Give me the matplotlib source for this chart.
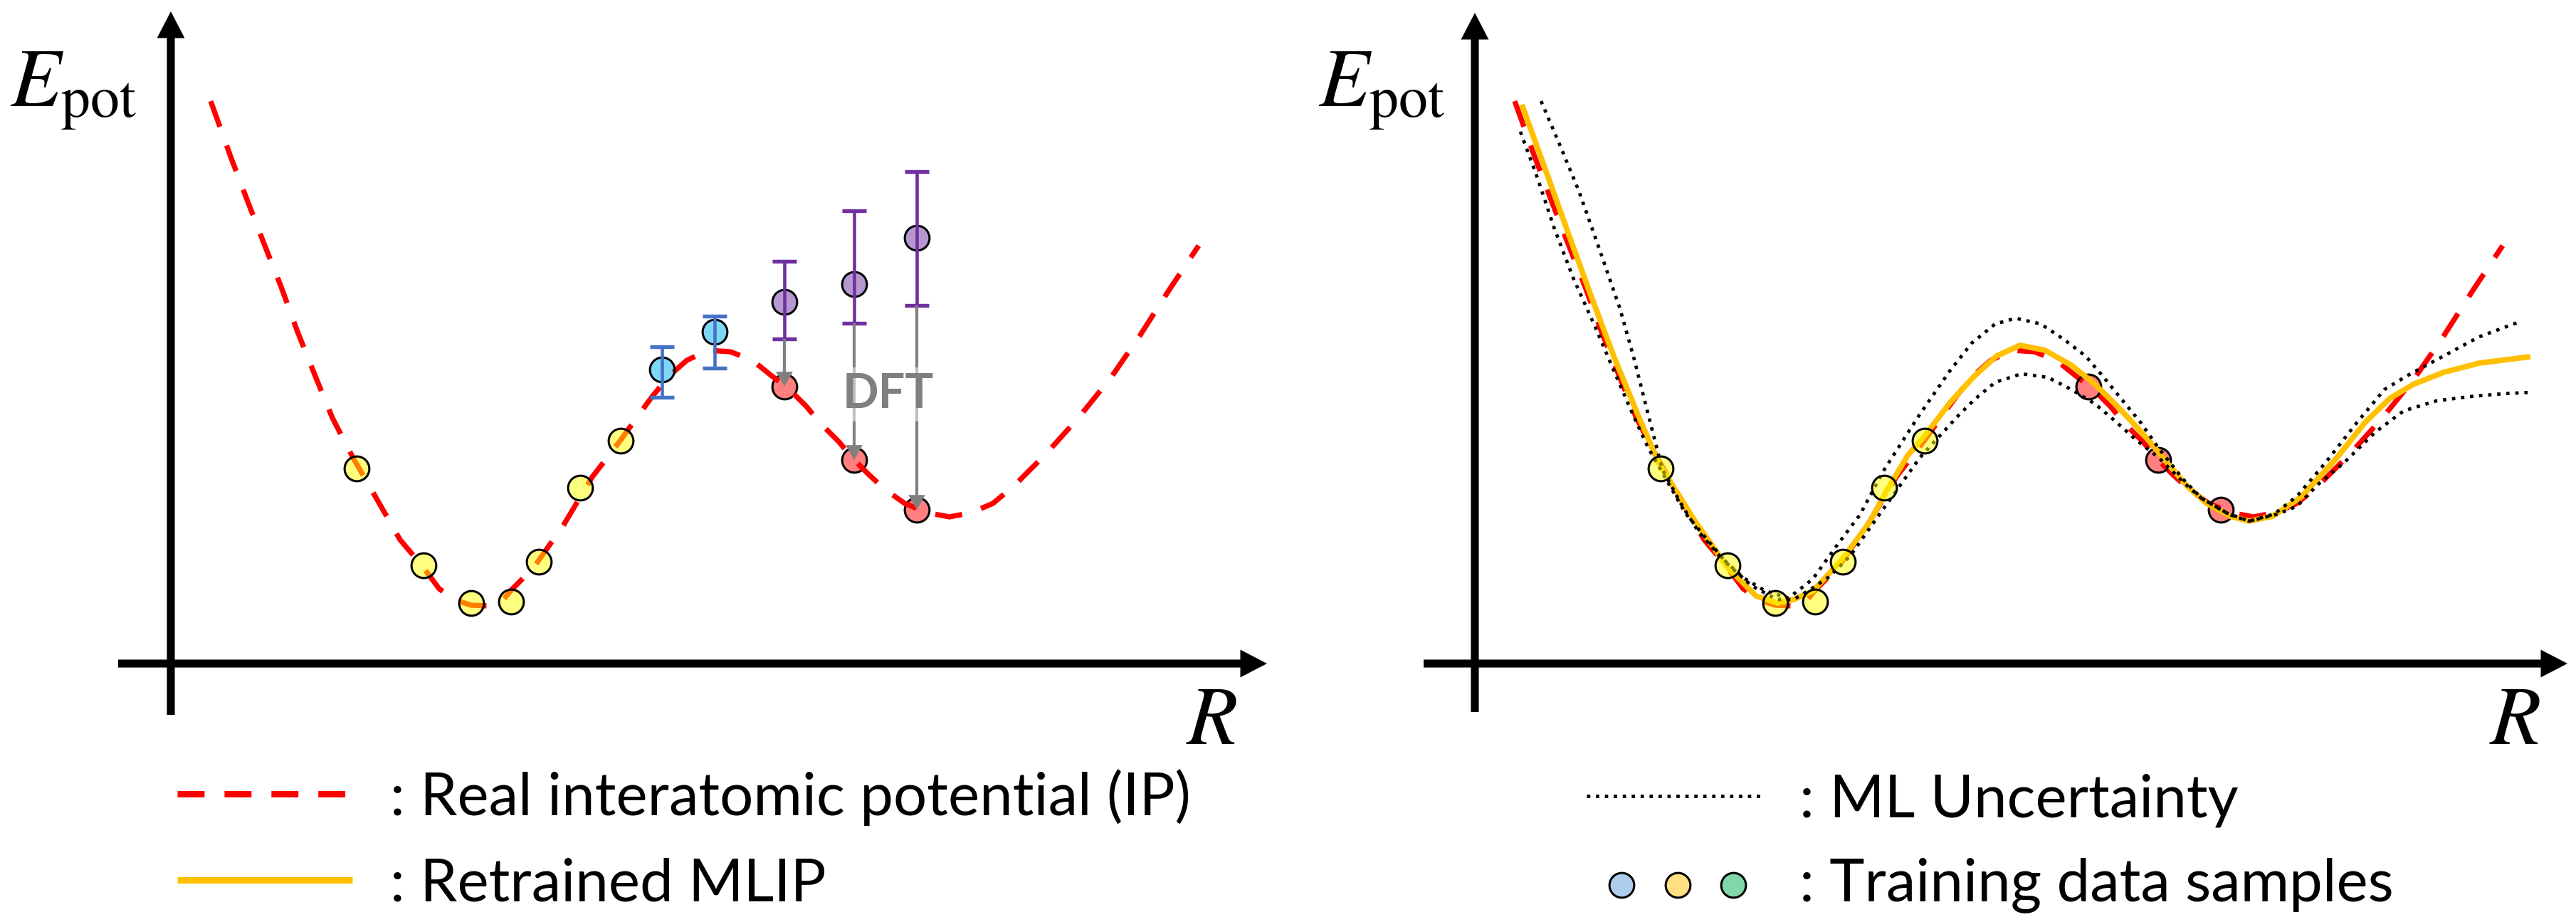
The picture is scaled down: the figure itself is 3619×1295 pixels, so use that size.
import matplotlib
matplotlib.use("Agg")
import numpy as np
from matplotlib import pyplot as plt
from matplotlib.lines import Line2D

W, H, DPI = 3619, 1295, 100

plt.rcParams['mathtext.fontset'] = 'stix'
plt.rcParams['font.family'] = ['Lato', 'DejaVu Sans']

# real interatomic potential (IP), arbitrary units
ip_r = [0.56, 0.84, 1.08, 1.32, 1.55, 1.78, 2.02, 2.27, 2.56, 2.90, 3.22, 3.54, 3.77, 4.00,
        4.22, 4.45, 4.65, 4.78, 4.95, 5.12, 5.52, 5.92, 6.32, 6.60, 6.77, 7.00, 7.25, 7.55,
        7.86, 8.17, 8.43, 8.70, 8.93, 9.12, 9.39, 9.58, 9.81, 10.04, 10.31, 10.62, 10.94,
        11.25, 11.55, 11.84, 12.29, 12.75, 13.21, 13.61, 14.02, 14.44]
ip_e = [7.90, 7.12, 6.49, 5.87, 5.29, 4.66, 4.06, 3.45, 2.89, 2.30, 1.74, 1.36, 1.05, 0.89,
        0.82, 0.81, 0.87, 1.03, 1.20, 1.38, 1.95, 2.62, 3.14, 3.53, 3.76, 4.04, 4.26, 4.40,
        4.38, 4.26, 4.05, 3.84, 3.61, 3.38, 3.11, 2.88, 2.65, 2.44, 2.25, 2.12, 2.06,
        2.12, 2.25, 2.49, 2.94, 3.45, 4.02, 4.60, 5.24, 5.87]

# retrained MLIP
ml_r = [0.66, 0.98, 1.31, 1.63, 1.95, 2.28, 2.58, 3.08, 3.55, 3.95, 4.25, 4.48, 4.75, 5.15,
        5.55, 5.78, 6.08, 6.32, 6.68, 7.02, 7.33, 7.66, 8.01, 8.38, 8.68, 8.95, 9.21, 9.48,
        9.75, 10.01, 10.28, 10.61, 10.88, 11.21, 11.61, 12.11, 12.51, 12.85, 13.18, 13.61,
        14.11, 14.83]
ml_e = [7.85, 6.97, 6.05, 5.17, 4.32, 3.52, 2.82, 2.02, 1.35, 0.95, 0.85, 0.90, 1.02, 1.45,
        1.99, 2.42, 2.92, 3.20, 3.67, 4.04, 4.32, 4.47, 4.40, 4.19, 3.95, 3.69, 3.42, 3.12,
        2.79, 2.49, 2.25, 2.07, 2.00, 2.07, 2.34, 2.89, 3.39, 3.72, 3.92, 4.09,
        4.22, 4.31]

# ML uncertainty band
up_r = [0.93, 1.20, 1.46, 1.75, 2.04, 2.24, 2.43, 2.63, 2.88, 3.13, 3.43, 3.78, 4.08, 4.41,
        4.75, 5.08, 5.41, 5.75, 6.23, 6.68, 6.98, 7.31, 7.60, 7.95, 8.28, 8.58, 8.81, 9.08,
        9.35, 9.61, 9.95, 10.21, 10.55, 10.88, 11.23, 11.55, 11.95, 12.38, 12.78, 13.11,
        13.61, 14.11, 14.65]
up_e = [7.90, 7.27, 6.64, 5.82, 4.98, 4.27, 3.52, 2.74, 2.27, 1.87, 1.52, 1.20, 1.02, 0.92,
        1.19, 1.65, 2.09, 2.72, 3.47, 4.12, 4.50, 4.77, 4.85, 4.77, 4.55, 4.32, 4.05, 3.72,
        3.39, 3.02, 2.59, 2.32, 2.12, 2.00, 2.10, 2.35, 2.82, 3.37, 3.85, 4.05,
        4.32, 4.59, 4.79]
lo_r = [0.64, 0.88, 1.11, 1.38, 1.69, 1.95, 2.21, 2.43, 2.68, 2.96, 3.28, 3.54, 3.88, 4.24,
        4.48, 4.73, 4.98, 5.28, 5.68, 6.25, 6.78, 7.02, 7.31, 7.68, 8.05, 8.38, 8.71, 8.98,
        9.28, 9.61, 9.95, 10.21, 10.61, 10.88, 11.28, 11.55, 11.85, 12.21, 12.65, 13.05,
        13.51, 13.98, 14.45, 14.85]
lo_e = [7.47, 6.82, 6.13, 5.42, 4.73, 4.12, 3.52, 3.04, 2.60, 2.11, 1.72, 1.41, 1.10, 0.90,
        0.90, 1.05, 1.22, 1.52, 2.09, 2.89, 3.47, 3.71, 3.95, 4.07, 4.02, 3.85, 3.65, 3.42,
        3.15, 2.89, 2.55, 2.32, 2.09, 2.00, 2.10, 2.21, 2.52, 2.82, 3.25, 3.55,
        3.69, 3.75, 3.79, 3.81]

# sampled configurations
yel_r = [2.61, 3.55, 4.22, 4.78, 5.17, 5.75, 6.32]
yel_e = [2.74, 1.38, 0.85, 0.87, 1.43, 2.47, 3.13]
blue_r = [6.90, 7.64]
blue_e = [4.13, 4.66]
blue_top = [4.45, 4.88]
blue_bot = [3.74, 4.15]
pur_r = [8.62, 9.60, 10.48]
pur_e = [5.08, 5.33, 5.98]
pur_top = [5.65, 6.36, 6.91]
pur_bot = [4.56, 4.78, 5.03]
dft_e = [3.89, 2.86, 2.16]

RED, ORANGE, GRAY = '#FF0000', '#FFC000', '#808080'
PT = dict(ls='none', marker='o', ms=25, mec='k', mew=2.2)


def make_axes(fig, ox, oy, xlim, ylim):
    # ox, oy: pixel position of the origin, 100 px per unit
    rect = [(ox + xlim[0] * 100) / W, 1 - (oy - ylim[0] * 100) / H,
            (xlim[1] - xlim[0]) * 100 / W, (ylim[1] - ylim[0]) * 100 / H]
    ax = fig.add_axes(rect)
    ax.set_xlim(xlim)
    ax.set_ylim(ylim)
    ax.axis('off')
    arr = dict(arrowstyle='simple,head_length=27,head_width=28,tail_width=8',
               mutation_scale=1, fc='k', ec='none', lw=0, shrinkA=0, shrinkB=0)
    ax.annotate('', xy=(xlim[1], 0), xytext=(xlim[0], 0), arrowprops=arr, zorder=10)
    ax.annotate('', xy=(0, ylim[1]), xytext=(0, ylim[0]), arrowprops=arr, zorder=10)
    return ax


fig = plt.figure(figsize=(W / DPI, H / DPI), dpi=DPI, facecolor='white')

# ---- left panel
ax = make_axes(fig, 240, 932, (-0.74, 15.40), (-0.72, 9.16))
ax.plot(ip_r, ip_e, color=RED, lw=5.3, ls=(0, (5.2, 3.8)), zorder=2)
ax.plot(pur_r, dft_e, mfc=(1, 0, 0, 0.5), zorder=1.5, **PT)
ax.plot(yel_r, yel_e, mfc=(1, 1, 0, 0.5), zorder=3, **PT)
ax.plot(blue_r, blue_e, mfc=(0, 0.69, 0.94, 0.5), zorder=3, **PT)
ax.plot(pur_r, pur_e, mfc=(0.44, 0.19, 0.63, 0.5), zorder=3, **PT)
eb = dict(fmt='none', elinewidth=3.3, capsize=12, capthick=3.9, zorder=4)
ax.errorbar(blue_r, blue_e, yerr=[np.subtract(blue_e, blue_bot), np.subtract(blue_top, blue_e)],
            ecolor='#4472C4', **eb)
ax.errorbar(pur_r, pur_e, yerr=[np.subtract(pur_e, pur_bot), np.subtract(pur_top, pur_e)],
            ecolor='#7030A0', **eb)
for r, e0, e1 in zip(pur_r, pur_bot, dft_e):
    ax.annotate('', xy=(r, e1), xytext=(r, e0), zorder=5,
                arrowprops=dict(arrowstyle='simple,head_length=15,head_width=17,tail_width=3',
                                mutation_scale=1, fc=GRAY, ec='none', lw=0, shrinkA=0, shrinkB=0))
ax.text(10.08, 3.78, 'DFT', fontsize=48, fontweight='bold', color=GRAY, ha='center', va='center',
        zorder=6, bbox=dict(boxstyle='square,pad=0.1', fc='white', ec='none', alpha=0.5))

# ---- right panel
ax2 = make_axes(fig, 2072, 932, (-0.72, 15.35), (-0.68, 9.14))
ax2.plot(ip_r, ip_e, color=RED, lw=5.3, ls=(0, (5.2, 3.8)), zorder=1)
ax2.plot(pur_r, dft_e, mfc=(1, 0, 0, 0.5), zorder=1.5, **PT)
ax2.plot(ml_r, ml_e, color=ORANGE, lw=5.6, solid_capstyle='butt', zorder=2)
ax2.plot(up_r, up_e, color='k', lw=3.4, ls=(0, (1, 1.7)), zorder=2.5)
ax2.plot(lo_r, lo_e, color='k', lw=3.4, ls=(0, (1, 1.7)), zorder=2.5)
ax2.plot(yel_r, yel_e, mfc=(1, 1, 0, 0.5), zorder=3, **PT)

# ---- axis labels
lab = dict(fontsize=84, va='baseline', ha='left')
fig.text(14 / W, 1 - 150 / H, r'$E_{\mathrm{pot}}$', **lab)
fig.text(1852 / W, 1 - 150 / H, r'$E_{\mathrm{pot}}$', **lab)
fig.text(1666 / W, 1 - 1045 / H, r'$R$', **lab)
fig.text(3497 / W, 1 - 1045 / H, r'$R$', **lab)

# ---- key
fx = lambda px: px / W
fy = lambda py: 1 - py / H
fig.add_artist(Line2D([fx(249), fx(485)], [fy(1115)] * 2, color=RED, lw=6.5,
                      ls=(0, (4.2, 3.1))))
fig.add_artist(Line2D([fx(249), fx(495)], [fy(1236)] * 2, color=ORANGE, lw=6.5,
                      solid_capstyle='butt'))
fig.add_artist(Line2D([fx(2229), fx(2473)], [fy(1118)] * 2, color='k', lw=3.4,
                      ls=(0, (1, 1.66))))
for px, c in zip([2278, 2357, 2435], ['#ADCDEA', '#FFE080', '#80D8A8']):
    fig.add_artist(Line2D([fx(px)], [fy(1243)], marker='o', ms=25, mfc=c, mec='k', mew=2.2))
key = dict(fontsize=60, va='baseline', ha='left')
fig.text(fx(548), fy(1145), ': Real interatomic potential (IP)', **key)
fig.text(fx(548), fy(1265), ': Retrained MLIP', **key)
fig.text(fx(2528), fy(1148), ': ML Uncertainty', **key)
fig.text(fx(2528), fy(1265), ': Training data samples', **key)

fig.savefig('out.png', dpi=DPI, facecolor='white')
